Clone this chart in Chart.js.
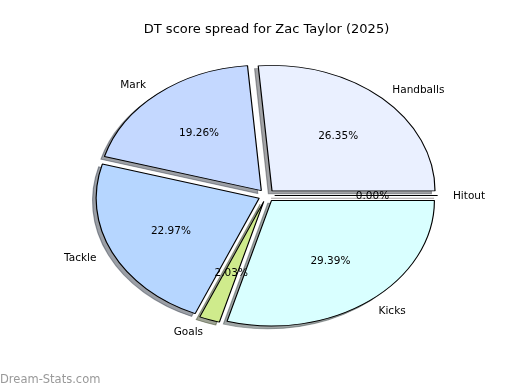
<!DOCTYPE html>
<html>
<head>
<meta charset="utf-8">
<title>DT score spread - Zac Taylor (2025)</title>
<script src="https://cdn.jsdelivr.net/npm/chart.js@4.4.1/dist/chart.umd.min.js"></script>
<style>
  html, body { margin: 0; padding: 0; background: #fff; }
  canvas { display: block; }
</style>
</head>
<body>
<canvas id="grafica" width="520" height="390"></canvas>
<script>
// data, in the order the slices go round (anticlockwise from 3 o'clock)
const categorias = ['Handballs', 'Mark', 'Tackle', 'Goals', 'Kicks', 'Hitout'];
const porcentajes = [26.35, 19.26, 22.97, 2.03, 29.39, 0.00];
const colores = ['#eaf0ff', '#c4d8ff', '#b6d6ff', '#cfeb8c', '#d9ffff', '#ffe4e1'];
const titulo = 'DT score spread for Zac Taylor (2025)';
const marcaAgua = 'Dream-Stats.com';

const RADIO = 125.5;            // vertical radius in px
const ESTIRA = 163 / 125.5;     // axes are not square -> the pie is an ellipse
const EXPLOTA = 0.05;           // explode, fraction of the radius
const SOMBRA = { x: -3.6, y: 2.8 };
const FUENTE = 'DejaVu Sans';

// Chart.js goes clockwise, so feed it the slices backwards
const orden = categorias.map((_, i) => i).reverse();

function centro(chart) {
    const a = chart.chartArea;
    return { cx: (a.left + a.right) / 2, cy: (a.top + a.bottom) / 2 };
}

function estirar(ctx, cx) {
    ctx.translate(cx, 0);
    ctx.scale(ESTIRA, 1);
    ctx.translate(-cx, 0);
}

function sombraDe(hex) {
    const n = parseInt(hex.slice(1), 16);
    const r = ((n >> 16) & 255) * 0.3, g = ((n >> 8) & 255) * 0.3, b = (n & 255) * 0.3;
    return 'rgb(' + r + ',' + g + ',' + b + ')';
}

function caminoArco(ctx, arc) {
    ctx.beginPath();
    ctx.moveTo(arc.x, arc.y);
    ctx.arc(arc.x, arc.y, arc.outerRadius, arc.startAngle, arc.endAngle);
    ctx.closePath();
}

const pastel = {
    id: 'pastel',
    beforeDatasetsDraw(chart) {
        const ctx = chart.ctx;
        const { cx, cy } = centro(chart);
        const meta = chart.getDatasetMeta(0);

        // explode every slice along its middle angle
        meta.data.forEach(arc => {
            const mid = (arc.startAngle + arc.endAngle) / 2;
            arc.x = cx + Math.cos(mid) * EXPLOTA * arc.outerRadius;
            arc.y = cy + Math.sin(mid) * EXPLOTA * arc.outerRadius;
        });

        // shadows, like matplotlib's shadow=True
        meta.data.forEach((arc, i) => {
            ctx.save();
            ctx.translate(SOMBRA.x, SOMBRA.y);
            estirar(ctx, cx);
            ctx.globalAlpha = 0.5;
            ctx.fillStyle = ctx.strokeStyle = sombraDe(colores[orden[i]]);
            ctx.lineWidth = 0.9;
            caminoArco(ctx, arc);
            ctx.fill();
            ctx.stroke();
            ctx.restore();
        });

        ctx.save();
        estirar(ctx, cx);
    },
    afterDatasetsDraw(chart) {
        const ctx = chart.ctx;
        const { cx } = centro(chart);
        const meta = chart.getDatasetMeta(0);

        // a 0% slice is still drawn by matplotlib as a single edge
        meta.data.forEach(arc => {
            if (arc.endAngle - arc.startAngle > 0) return;
            ctx.strokeStyle = '#000';
            ctx.lineWidth = 0.9;
            caminoArco(ctx, arc);
            ctx.stroke();
        });
        ctx.restore();

        // labels and percentages
        ctx.save();
        ctx.font = '10.5px "' + FUENTE + '"';
        ctx.fillStyle = '#000';
        ctx.textBaseline = 'middle';
        meta.data.forEach((arc, i) => {
            const k = orden[i];
            const mid = (arc.startAngle + arc.endAngle) / 2;
            const ux = Math.cos(mid), uy = Math.sin(mid);
            const punto = d => ({
                x: cx + (arc.x - cx + ux * d * arc.outerRadius) * ESTIRA,
                y: arc.y + uy * d * arc.outerRadius + 0.6
            });
            const et = punto(1.1);
            ctx.textAlign = ux > 0 ? 'left' : 'right';
            ctx.fillText(categorias[k], et.x - 1, et.y);
            const pc = punto(0.6);
            ctx.textAlign = 'center';
            ctx.fillText(porcentajes[k].toFixed(2) + '%', pc.x, pc.y);
        });
        ctx.restore();
    },
    afterDraw(chart) {
        const ctx = chart.ctx;
        ctx.save();
        ctx.font = '11.5px "' + FUENTE + '"';
        ctx.fillStyle = '#999999';
        ctx.textAlign = 'left';
        ctx.textBaseline = 'middle';
        ctx.fillText(marcaAgua, 0, 380);
        ctx.restore();
    }
};

new Chart(document.getElementById('grafica'), {
    type: 'pie',
    data: {
        labels: orden.map(i => categorias[i]),
        datasets: [{
            data: orden.map(i => porcentajes[i]),
            backgroundColor: orden.map(i => colores[i]),
            borderColor: '#000',
            borderWidth: 0.9,
            hoverOffset: 0
        }]
    },
    options: {
        responsive: false,
        animation: false,
        rotation: 90,
        radius: RADIO,
        layout: { padding: { left: 13, right: 0, top: 0, bottom: 39 } },
        plugins: {
            legend: { display: false },
            tooltip: { enabled: false },
            title: {
                display: true,
                text: titulo,
                color: '#000',
                font: { family: FUENTE, size: 13, weight: 'normal' },
                padding: { top: 21.7, bottom: 2.7 }
            }
        }
    },
    plugins: [pastel]
});
</script>
</body>
</html>
